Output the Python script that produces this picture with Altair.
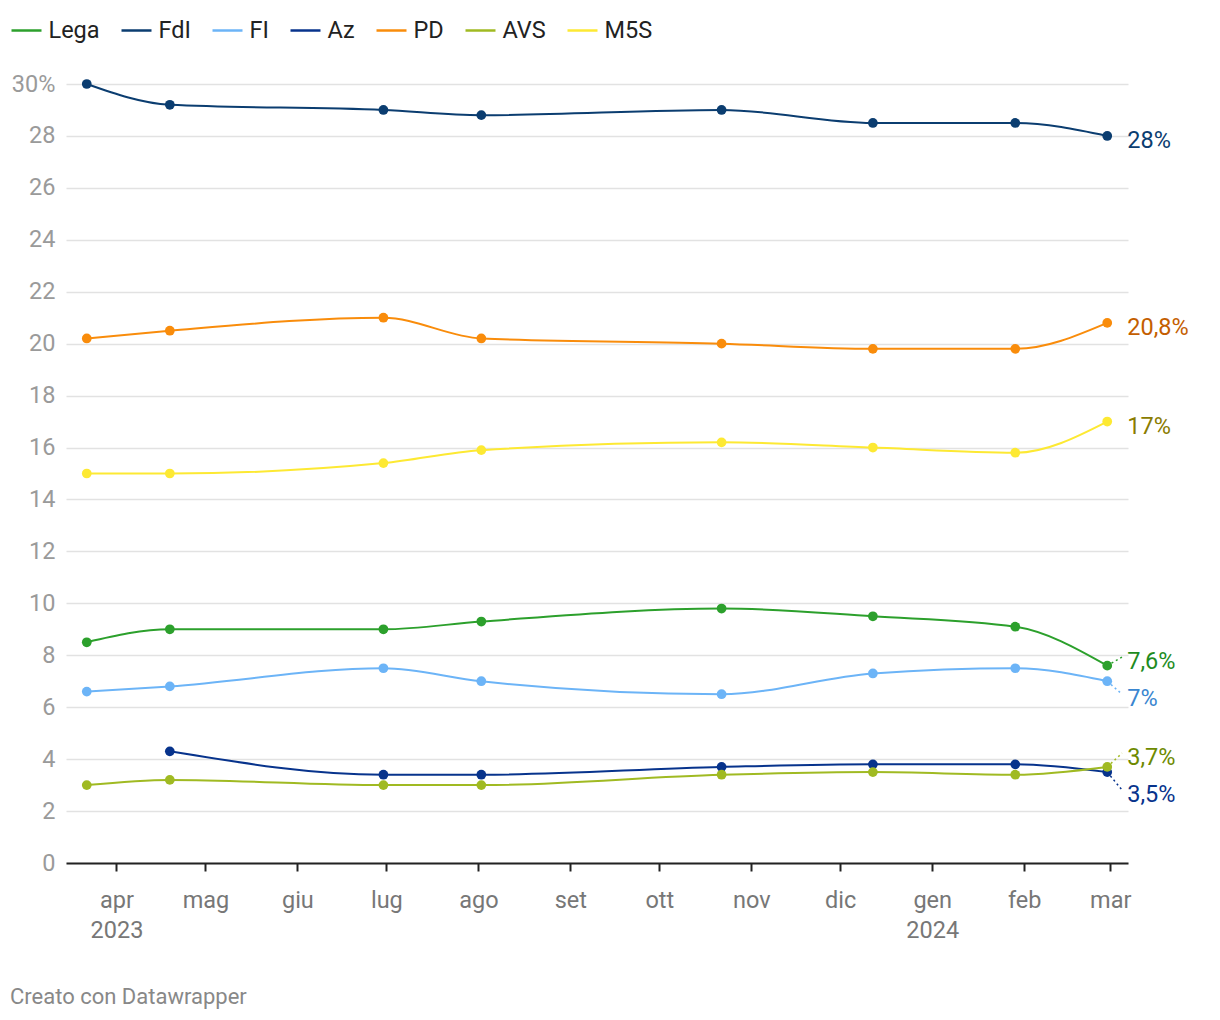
import altair as alt
import pandas as pd

# ---- data ----
dates = ["2023-03-22", "2023-04-19", "2023-06-30", "2023-08-02",
         "2023-10-22", "2023-12-12", "2024-01-29", "2024-02-29"]
series_names = ["Lega", "FdI", "FI", "Az", "PD", "AVS", "M5S"]
lega = [8.5, 9.0, 9.0, 9.3, 9.8, 9.5, 9.1, 7.6]
fdi = [30.0, 29.2, 29.0, 28.8, 29.0, 28.5, 28.5, 28.0]
fi = [6.6, 6.8, 7.5, 7.0, 6.5, 7.3, 7.5, 7.0]
az = [None, 4.3, 3.4, 3.4, 3.7, 3.8, 3.8, 3.5]
pd_ = [20.2, 20.5, 21.0, 20.2, 20.0, 19.8, 19.8, 20.8]
avs = [3.0, 3.2, 3.0, 3.0, 3.4, 3.5, 3.4, 3.7]
m5s = [15.0, 15.0, 15.4, 15.9, 16.2, 16.0, 15.8, 17.0]

end_labels = ["7,6%", "28%", "7%", "3,5%", "20,8%", "3,7%", "17%"]
# label anchor (y, in percentage points) for the right-hand labels
label_y = [7.93, 28.0, 6.5, 2.81, 20.8, 4.23, 17.0]

month_names = ["gen", "feb", "mar", "apr", "mag", "giu",
               "lug", "ago", "set", "ott", "nov", "dic"]
tick_dates = [(2023, m) for m in range(4, 13)] + [(2024, m) for m in range(1, 4)]
y_ticks = list(range(0, 31, 2))

# ---- styles ----
line_colors = ["#2ca02c", "#0b3d70", "#6cb4f7", "#07338c",
               "#f98c0b", "#a0ba22", "#fde933"]
label_colors = ["#1e8c1e", "#0b3d70", "#3a86d0", "#07338c",
                "#c45e00", "#6e8a00", "#8a7c00"]

values = [lega, fdi, fi, az, pd_, avs, m5s]
rows = []
for name, vals in zip(series_names, values):
    for d, v in zip(dates, vals):
        if v is not None:
            rows.append({"date": d, "serie": name, "value": v})
df = pd.DataFrame(rows)

lab_rows = []
last_date = pd.Timestamp(dates[-1])
for name, vals, lt, ly, lc in zip(series_names, values, end_labels, label_y, label_colors):
    lab_rows.append({
        "date": dates[-1],
        "date2": (last_date + pd.Timedelta(days=5)).strftime("%Y-%m-%d"),
        "serie": name, "value": vals[-1], "ly": ly, "text": lt, "lcolor": lc,
        "conn": abs(ly - vals[-1]) > 0.1,
    })
lab = pd.DataFrame(lab_rows)

W, H = 1062, 779

x_scale = alt.Scale(type="utc", domain=[alt.DateTime(year=2023, month=3, date=15, utc=True),
                                        alt.DateTime(year=2024, month=3, date=7, utc=True)])
y_scale = alt.Scale(domain=[0, 30], nice=False)
color_scale = alt.Scale(domain=series_names, range=line_colors)

month_arr = "[" + ",".join(f"'{m}'" for m in month_names) + "]"
x_axis = alt.Axis(
    values=[alt.DateTime(year=y, month=m, date=1, utc=True) for y, m in tick_dates],
    labelExpr=(f"(utcmonth(datum.value)==0 || (utcmonth(datum.value)==3 && utcyear(datum.value)==2023))"
               f" ? [{month_arr}[utcmonth(datum.value)], ''+utcyear(datum.value)]"
               f" : {month_arr}[utcmonth(datum.value)]"),
    title=None, grid=False, domainColor="#222", domainWidth=2,
    tickColor="#222", tickWidth=2, tickSize=8, labelColor="#777",
    labelFontSize=23.5, labelPadding=17, labelLineHeight=30, labelBaseline="top",
)
y_axis = alt.Axis(
    values=y_ticks, labelExpr="datum.value == 30 ? '30%' : datum.label",
    title=None, grid=True, gridColor="#e2e2e2", gridWidth=1.5, domain=False, ticks=False,
    labelColor="#9a9a9a", labelFontSize=23.5, labelPadding=11,
)

base = alt.Chart(df)
lines = base.mark_line(interpolate="monotone", strokeWidth=2).encode(
    x=alt.X("date:T", scale=x_scale, axis=x_axis),
    y=alt.Y("value:Q", scale=y_scale, axis=y_axis),
    color=alt.Color("serie:N", scale=color_scale, sort=series_names,
                    legend=alt.Legend(title=None, orient="none", legendX=-56, legendY=-70,
                                      direction="horizontal", symbolType="stroke",
                                      symbolSize=900, symbolStrokeWidth=2.5,
                                      labelFontSize=23.5, labelColor="#222",
                                      columnPadding=16, labelOffset=5.5)),
    detail="serie:N",
)
points = base.mark_circle(size=95, opacity=1).encode(
    x="date:T", y="value:Q",
    color=alt.Color("serie:N", scale=color_scale, sort=series_names),
)

conn = alt.Chart(lab).transform_filter("datum.conn").mark_rule(
    strokeWidth=1.5, strokeDash=[2, 3]).encode(
    x="date:T", x2="date2:T", y="value:Q", y2="ly:Q",
    color=alt.Color("serie:N", scale=color_scale, sort=series_names),
)
labels = alt.Chart(lab).mark_text(align="left", baseline="middle", dx=20, dy=5, fontSize=23.5).encode(
    x="date:T", y="ly:Q", text="text:N",
    color=alt.Color("lcolor:N", scale=None),
)
footer = alt.Chart(pd.DataFrame({"t": ["Creato con Datawrapper"]})).mark_text(
    align="left", baseline="middle", fontSize=22, color="#888").encode(
    x=alt.value(-56), y=alt.value(H + 134), text="t:N")

chart = alt.layer(lines, conn, points, labels, footer).properties(
    width=W, height=H,
    autosize=alt.AutoSizeParams(type="none"),
    padding={"left": 58, "top": 76, "right": 80, "bottom": 150},
).configure(font="Roboto").configure_view(stroke=None)

chart.save("out.html", embed_options={"renderer": "svg", "actions": False})
